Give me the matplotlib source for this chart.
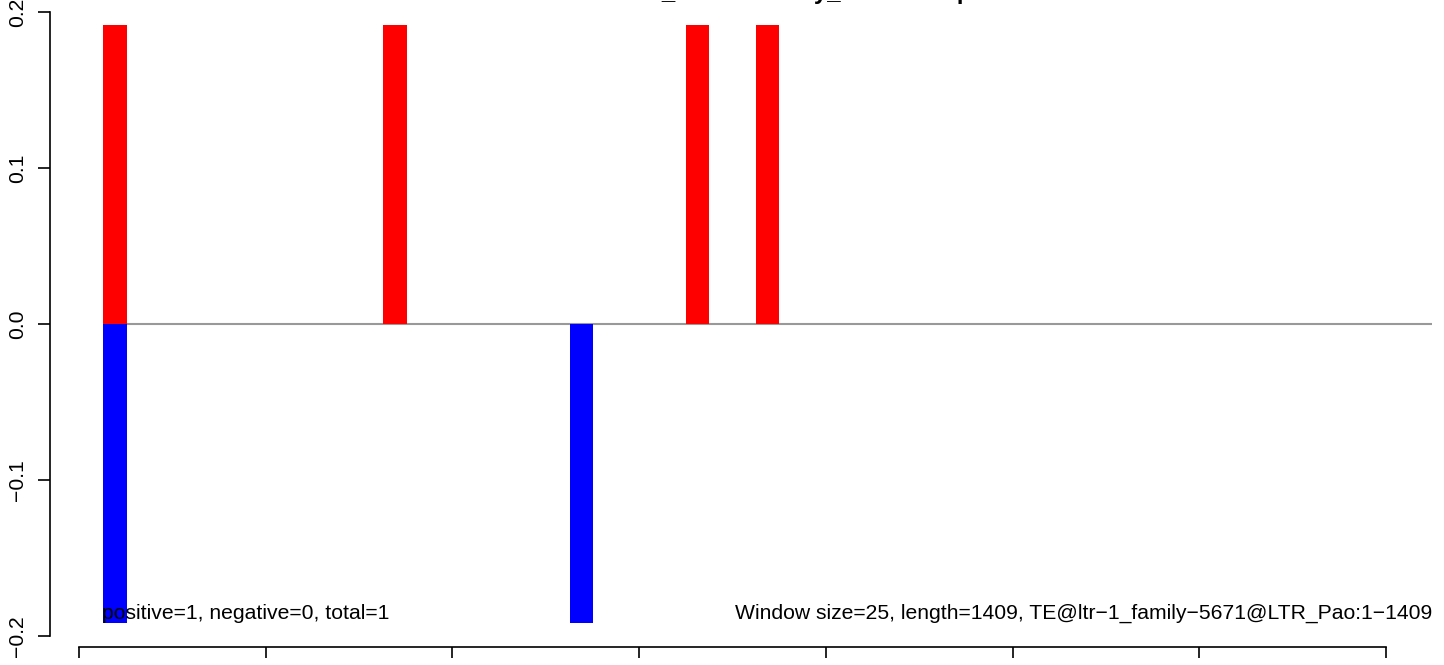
import matplotlib
matplotlib.use("Agg")
import matplotlib.pyplot as plt

plt.rcParams['font.family'] = ['Liberation Sans', 'DejaVu Sans']

# window data
window = 25
length = 1409
pos_starts = [26, 326, 650, 725]
pos_values = [0.1915, 0.1915, 0.1915, 0.1915]
neg_starts = [26, 526]
neg_values = [-0.1915, -0.1915]
x_ticks = [0, 200, 400, 600, 800, 1000, 1200, 1400]
y_ticks = [-0.2, -0.1, 0.0, 0.1, 0.2]
y_labels = ["\u22120.2", "\u22120.1", "0.0", "0.1", "0.2"]
title = "TE-ltr-1_id5671-family_strand-map"
left_note = "positive=1, negative=0, total=1"
right_note = "Window size=25, length=1409, TE@ltr\u22121_family\u22125671@LTR_Pao:1\u22121409"

W, H = 1444, 665
fig = plt.figure(figsize=(W / 100, H / 100), dpi=100)
ax = fig.add_axes([50 / W, 0, (1432 - 50) / W, 1])

ax.set_xlim(-31, 1449)
ax.set_ylim(-0.2186, 0.2077)

ax.hlines(0, pos_starts[0], 1449, color='#999999', linewidth=1.5, zorder=1)
ax.bar(pos_starts, pos_values, width=window, align='edge', color='#ff0000', zorder=2)
ax.bar(neg_starts, neg_values, width=window, align='edge', color='#0000ff', zorder=2)

ax.text(pos_starts[0] - 1, -0.1855, left_note, fontsize=15.2, ha='left', va='center')
ax.text(1449, -0.1855, right_note, fontsize=15.2, ha='right', va='center')

for s in ['top', 'right']:
    ax.spines[s].set_visible(False)
ax.spines['left'].set_bounds(-0.2, 0.2)
ax.spines['bottom'].set_position(('data', -0.2071))
ax.spines['bottom'].set_bounds(0, 1400)
ax.spines['left'].set_linewidth(1.2)
ax.spines['bottom'].set_linewidth(1.2)

ax.set_yticks(y_ticks)
ax.set_yticklabels(y_labels)
ax.set_xticks(x_ticks)
ax.set_xticklabels([])
ax.tick_params(axis='y', direction='out', length=8.5, width=1.2, pad=8,
               labelsize=15.2, labelrotation=90)
ax.tick_params(axis='x', direction='out', length=8, width=1.2)
for lab in ax.get_yticklabels():
    lab.set_va('center')

# title sits above the figure edge, only its descenders show
fig.text(579 / W, 1 + 1.5 / H, title, fontsize=17.3, fontweight='bold',
         ha='left', va='baseline')

fig.savefig("out.png", dpi=100)
